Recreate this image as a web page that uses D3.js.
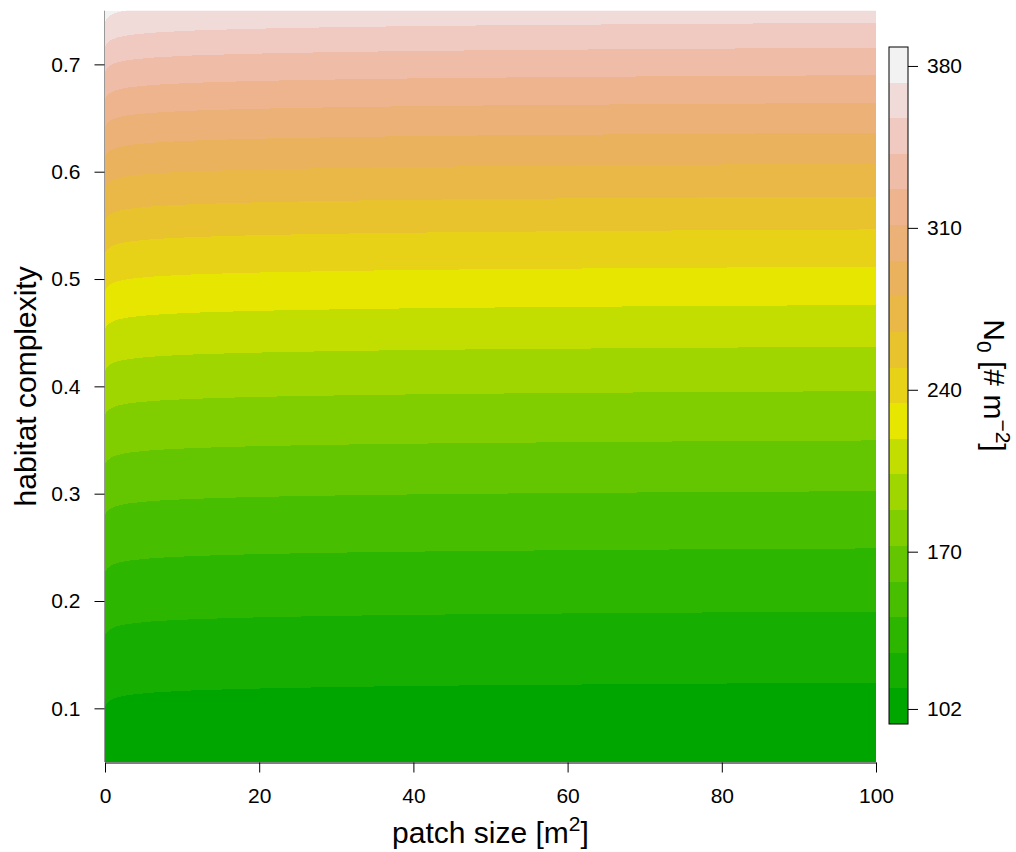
<!DOCTYPE html>
<html>
<head>
<meta charset="utf-8">
<script src="https://cdn.jsdelivr.net/npm/d3@7"></script>
<style>
body { margin: 0; background: #fff; }
svg text { font-family: "Liberation Sans", Arial, Helvetica, sans-serif; fill: #000; }
</style>
</head>
<body>
<div id="chart"></div>
<script>
var patchSize = [0, 0.25, 1, 2, 4, 8, 15, 25, 40, 60, 80, 100];
// how far (in habitat complexity) each contour dips below its value at 100 m2
var contourShift = [0.022, 0.0192, 0.0152, 0.0129, 0.0106, 0.0083, 0.0063, 0.0046, 0.0030, 0.0017, 0.0007, 0];
// habitat complexity of each of the 18 contour lines at patch size 100
var contourAtMaxPatch = [0.1238, 0.1901, 0.2490, 0.3023, 0.3496, 0.3955, 0.4368, 0.4757, 0.5114,
    0.5462, 0.5768, 0.6074, 0.6361, 0.6640, 0.6899, 0.7154, 0.7386, 0.7620];
// N0 levels separating the 19 colour bands
var levels = [95.5, 110.9, 126.3, 141.7, 157.1, 172.5, 187.9, 203.4, 218.8, 234.2,
    249.6, 265.0, 280.4, 295.8, 311.2, 326.6, 342.0, 357.4, 372.8, 388.2];
// terrain.colors(19)
var bandColors = ['#00A600', '#16AE00', '#2DB600', '#47BE00', '#63C600', '#80CE00', '#A0D600',
    '#C2DE00', '#E6E600', '#E7D217', '#E8C32E', '#E9B846', '#EBB25E', '#ECB176', '#EDB48E',
    '#EEBCA7', '#F0C9C0', '#F1DBD9', '#F2F2F2'];
var complexityTicks = [0.1, 0.2, 0.3, 0.4, 0.5, 0.6, 0.7];
var patchTicks = [0, 20, 40, 60, 80, 100];
var keyTicks = [102, 170, 240, 310, 380];

var width = 1016, height = 852;
var plot = { left: 105, right: 876, top: 10.7, bottom: 762 };
var key = { left: 889, right: 908, top: 47, bottom: 724 };

var x = d3.scaleLinear().domain([0, 100]).range([plot.left, plot.right]);
var y = d3.scaleLinear().domain([0.05, 0.75]).range([plot.bottom, plot.top]);
var z = d3.scaleLinear().domain([levels[0], levels[levels.length - 1]]).range([key.bottom, key.top]);

var svg = d3.select("#chart").append("svg")
    .attr("width", width)
    .attr("height", height);

svg.append("clipPath")
    .attr("id", "plot-clip")
    .append("rect")
    .attr("x", plot.left)
    .attr("y", plot.top)
    .attr("width", plot.right - plot.left)
    .attr("height", plot.bottom - plot.top);

var bands = svg.append("g")
    .attr("clip-path", "url(#plot-clip)");

// top band fills everything, lower bands are painted over it
bands.append("rect")
    .attr("x", plot.left)
    .attr("y", plot.top)
    .attr("width", plot.right - plot.left)
    .attr("height", plot.bottom - plot.top)
    .attr("fill", bandColors[bandColors.length - 1]);

var area = d3.area()
    .x(function (d) { return x(d.p); })
    .y0(y(0.05))
    .y1(function (d) { return y(d.c); })
    .curve(d3.curveMonotoneX);

var contours = contourAtMaxPatch.map(function (c, k) {
    return {
        k: k,
        points: patchSize.map(function (p, j) {
            return { p: p, c: c - contourShift[j] };
        })
    };
}).reverse();

bands.selectAll(".band")
    .data(contours)
    .enter().append("path")
    .attr("class", "band")
    .attr("d", function (d) { return area(d.points); })
    .attr("fill", function (d) { return bandColors[d.k]; })
    .attr("shape-rendering", "crispEdges");

// left edge
svg.append("line")
    .attr("x1", plot.left - 0.5).attr("x2", plot.left - 0.5)
    .attr("y1", plot.top).attr("y2", plot.bottom)
    .attr("stroke", "#999");

var yAxis = svg.append("g")
    .attr("transform", "translate(" + (plot.left - 0.5) + ",0)")
    .call(d3.axisLeft(y).tickValues(complexityTicks).tickSize(10).tickPadding(14)
        .tickFormat(d3.format(".1f")));
yAxis.select(".domain").remove();
yAxis.selectAll("text").style("font-size", "21px");

var xAxis = svg.append("g")
    .attr("transform", "translate(0," + (plot.bottom + 0.5) + ")")
    .call(d3.axisBottom(x).tickValues(patchTicks).tickSize(10).tickSizeOuter(0).tickPadding(16));
xAxis.selectAll("text").style("font-size", "21px");

svg.append("text")
    .attr("transform", "translate(36," + ((plot.top + plot.bottom) / 2) + ") rotate(-90)")
    .attr("text-anchor", "middle")
    .style("font-size", "30px")
    .text("habitat complexity");

var xLabel = svg.append("text")
    .attr("x", (plot.left + plot.right) / 2)
    .attr("y", 843)
    .attr("text-anchor", "middle")
    .style("font-size", "30px");
xLabel.append("tspan").text("patch size [m");
xLabel.append("tspan").attr("dy", -12).style("font-size", "21px").text("2");
xLabel.append("tspan").attr("dy", 12).text("]");

// colour key
svg.selectAll(".key-band")
    .data(bandColors)
    .enter().append("rect")
    .attr("class", "key-band")
    .attr("x", key.left)
    .attr("width", key.right - key.left)
    .attr("y", function (d, i) { return z(levels[i + 1]); })
    .attr("height", function (d, i) { return z(levels[i]) - z(levels[i + 1]); })
    .attr("fill", function (d) { return d; })
    .attr("shape-rendering", "crispEdges");

svg.append("rect")
    .attr("x", key.left)
    .attr("y", key.top)
    .attr("width", key.right - key.left)
    .attr("height", key.bottom - key.top)
    .attr("fill", "none")
    .attr("stroke", "#000");

var zAxis = svg.append("g")
    .attr("transform", "translate(" + key.right + ",0)")
    .call(d3.axisRight(z).tickValues(keyTicks).tickSize(10).tickPadding(9));
zAxis.select(".domain").remove();
zAxis.selectAll("text").style("font-size", "21px");

var zLabel = svg.append("text")
    .attr("transform", "translate(984," + ((key.top + key.bottom) / 2) + ") rotate(90)")
    .attr("text-anchor", "middle")
    .style("font-size", "30px");
zLabel.append("tspan").text("N");
zLabel.append("tspan").attr("dy", 7).style("font-size", "21px").text("0");
zLabel.append("tspan").attr("dy", -7).text(" [# m");
zLabel.append("tspan").attr("dy", -12).style("font-size", "21px").text("\u22122");
zLabel.append("tspan").attr("dy", 12).text("]");
</script>
</body>
</html>
